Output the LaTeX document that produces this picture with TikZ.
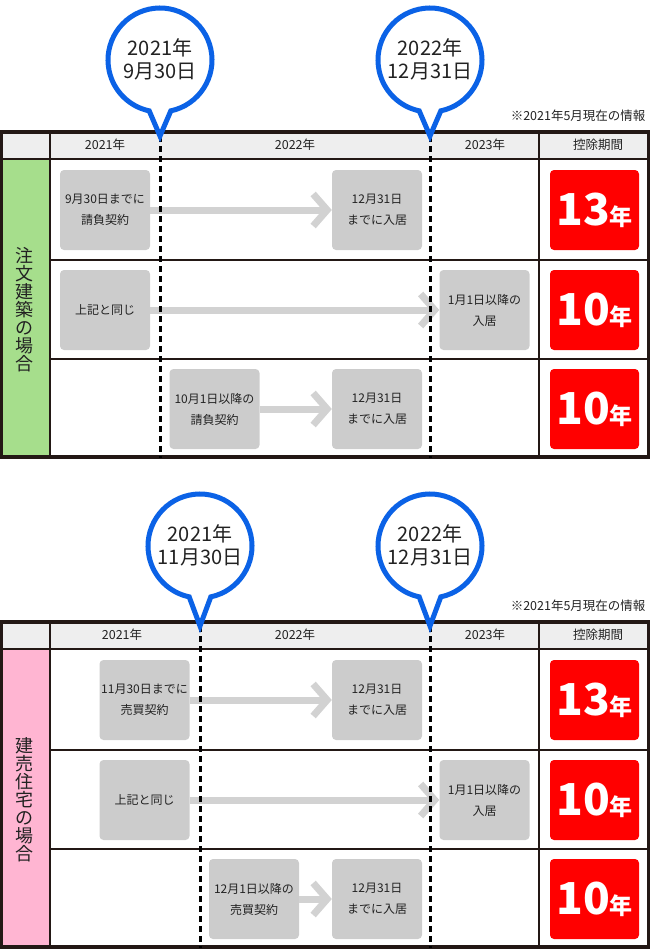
\documentclass[tikz,border=0pt]{standalone}
\usepackage{fontspec}
\setmainfont{Noto Sans CJK JP}
\usepackage{tikz}
\usetikzlibrary{arrows.meta,positioning}
\definecolor{frameline}{HTML}{231815}
\definecolor{pinblue}{HTML}{0B62E6}
\definecolor{headgray}{HTML}{EEEEEE}
\definecolor{boxgray}{HTML}{CCCCCC}
\definecolor{arrowgray}{HTML}{D2D2D2}
\definecolor{orderg}{HTML}{A6DE8C}
\definecolor{readyp}{HTML}{FFB5D2}
\definecolor{termred}{HTML}{FF0000}
\definecolor{inkgray}{HTML}{222222}
\newcommand{\termyears}[1]{{\fontsize{44}{44}\selectfont\bfseries #1}{\fontsize{23}{23}\selectfont\bfseries 年}}
\tikzset{
  stepbox/.style={fill=boxgray,rounded corners=4pt,minimum width=90pt,minimum height=80pt,inner sep=0pt,align=center,text=inkgray,font=\fontsize{12}{21}\selectfont},
  termbox/.style={fill=termred,rounded corners=4pt,minimum width=89pt,minimum height=80pt,inner sep=0pt,text=white},
  flow/.style={-{Straight Barb[length=14pt,width=32pt]},line width=7pt,arrowgray},
  bubble/.style={draw=pinblue,fill=white,line width=5pt,line join=miter},
  bubbletext/.style={align=center,text=inkgray,font=\fontsize{20}{23}\selectfont},
  headtext/.style={text=inkgray,font=\fontsize{12.5}{13}\selectfont},
  notetext/.style={anchor=east,text=inkgray,font=\fontsize{12.5}{13}\selectfont},
  sidelabel/.style={align=center,text=inkgray,font=\fontsize{18}{18}\selectfont},
  dateline/.style={line width=3pt,dash pattern=on 6pt off 4pt,black},
  outerline/.style={line width=3.5pt,frameline},
  innerline/.style={line width=2.5pt,frameline},
  rowline/.style={line width=2pt,frameline}
}

\begin{document}
\begin{tikzpicture}[x=1pt,y=-1pt]
  \useasboundingbox (0,0) rectangle (650,950);

  % --- upper table: 注文建築
  \fill[headgray] (0,131) rectangle (650,159);
  \fill[orderg] (0,159) rectangle (50,458);
  \draw[rowline] (50,260) -- (650,260);
  \draw[rowline] (50,359) -- (650,359);
  \draw[innerline] (0,159) -- (650,159);
  \draw[innerline] (50,131) -- (50,458);
  \draw[innerline] (539,131) -- (539,458);
  \draw[outerline] (1.5,132) rectangle (648.5,457);

  \node[headtext] (hyA) at (105,145) {2021年};
  \node[headtext] (hyB) at (295,145) {2022年};
  \node[headtext] (hyC) at (485,145) {2023年};
  \node[headtext] (hterm) at (598,145) {控除期間};
  \node[sidelabel] (orderlab) at (25,310) {注\\文\\建\\築\\の\\場\\合};

  \node[stepbox] (oa1) at (105,210) {9月30日までに\\請負契約};
  \node[stepbox] (ob1) at (377,210) {12月31日\\までに入居};
  \node[stepbox] (oa2) at (105,310) {上記と同じ};
  \node[stepbox] (ob2) at (484.5,310) {1月1日以降の\\入居};
  \node[stepbox] (oa3) at (214.5,409) {10月1日以降の\\請負契約};
  \node[stepbox] (ob3) at (377,409) {12月31日\\までに入居};
  \node[termbox] (ot1) at (594.5,210) {\termyears{13}};
  \node[termbox] (ot2) at (594.5,310) {\termyears{10}};
  \node[termbox] (ot3) at (594.5,409) {\termyears{10}};

  \draw[flow] (oa1) -- (ob1);
  \draw[flow] (oa2) -- (ob2);
  \draw[flow] (oa3) -- (ob3);

  \coordinate (otipA) at (160,136);
  \coordinate (oendA) at (160,458);
  \coordinate (otipB) at (430,136);
  \coordinate (oendB) at (430,458);
  \draw[dateline] (otipA) -- (oendA);
  \draw[dateline] (otipB) -- (oendB);

  \draw[bubble] (otipA) -- ([shift={(78:52)}]160,60) arc[start angle=78,end angle=-258,radius=52] -- cycle;
  \draw[bubble] (otipB) -- ([shift={(78:52)}]430,60) arc[start angle=78,end angle=-258,radius=52] -- cycle;
  \node[bubbletext] (odateA) at (160,59) {2021年\\9月30日};
  \node[bubbletext] (odateB) at (430,59) {2022年\\12月31日};
  \node[notetext] (onote) at (649,116) {※2021年5月現在の情報};

  % --- lower table: 建売住宅
  \fill[headgray] (0,621) rectangle (650,649);
  \fill[readyp] (0,649) rectangle (50,948);
  \draw[rowline] (50,750) -- (650,750);
  \draw[rowline] (50,849) -- (650,849);
  \draw[innerline] (0,649) -- (650,649);
  \draw[innerline] (50,621) -- (50,948);
  \draw[innerline] (539,621) -- (539,948);
  \draw[outerline] (1.5,622) rectangle (648.5,947);

  \node[headtext] (ryA) at (122,635) {2021年};
  \node[headtext] (ryB) at (295,635) {2022年};
  \node[headtext] (ryC) at (485,635) {2023年};
  \node[headtext] (rterm) at (598,635) {控除期間};
  \node[sidelabel] (readylab) at (25,800) {建\\売\\住\\宅\\の\\場\\合};

  \node[stepbox] (ra1) at (144.5,700) {11月30日までに\\売買契約};
  \node[stepbox] (rb1) at (377,700) {12月31日\\までに入居};
  \node[stepbox] (ra2) at (144.5,800) {上記と同じ};
  \node[stepbox] (rb2) at (484.5,800) {1月1日以降の\\入居};
  \node[stepbox] (ra3) at (254,899) {12月1日以降の\\売買契約};
  \node[stepbox] (rb3) at (377,899) {12月31日\\までに入居};
  \node[termbox] (rt1) at (594.5,700) {\termyears{13}};
  \node[termbox] (rt2) at (594.5,800) {\termyears{10}};
  \node[termbox] (rt3) at (594.5,899) {\termyears{10}};

  \draw[flow] (ra1) -- (rb1);
  \draw[flow] (ra2) -- (rb2);
  \draw[flow] (ra3) -- (rb3);

  \coordinate (rtipA) at (200,626);
  \coordinate (rendA) at (200,948);
  \coordinate (rtipB) at (430,626);
  \coordinate (rendB) at (430,948);
  \draw[dateline] (rtipA) -- (rendA);
  \draw[dateline] (rtipB) -- (rendB);

  \draw[bubble] (rtipA) -- ([shift={(78:52)}]200,546) arc[start angle=78,end angle=-258,radius=52] -- cycle;
  \draw[bubble] (rtipB) -- ([shift={(78:52)}]430,546) arc[start angle=78,end angle=-258,radius=52] -- cycle;
  \node[bubbletext] (rdateA) at (200,545) {2021年\\11月30日};
  \node[bubbletext] (rdateB) at (430,545) {2022年\\12月31日};
  \node[notetext] (rnote) at (649,606) {※2021年5月現在の情報};
\end{tikzpicture}
\end{document}
